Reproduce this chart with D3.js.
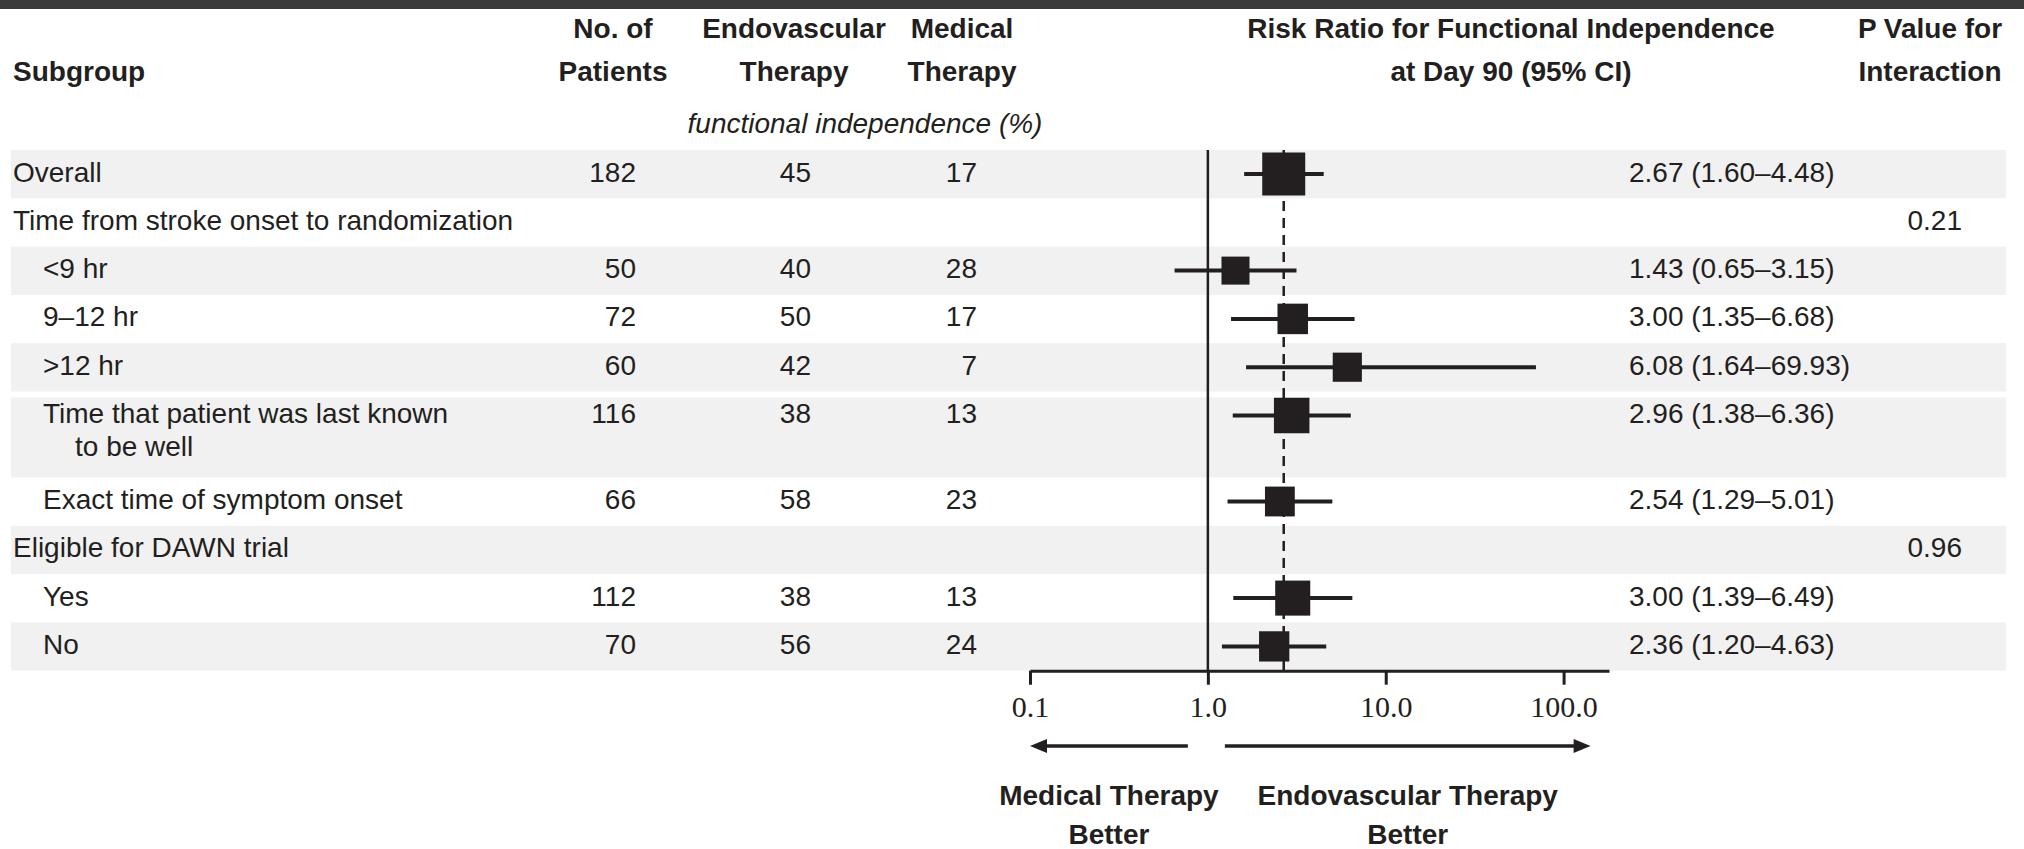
<!DOCTYPE html>
<html>
<head>
<meta charset="utf-8">
<script src="https://cdn.jsdelivr.net/npm/d3@7"></script>
<style>
  html, body { margin: 0; padding: 0; background: #ffffff; }
  svg { display: block; }
  text { font-family: "Liberation Sans", Arial, sans-serif; fill: #231f20; }
</style>
</head>
<body>
<svg id="chart" width="2024" height="849"></svg>
<script>
// ---- Subgroup table ----
const labelLines = [
  ["Overall"],
  ["Time from stroke onset to randomization"],
  ["<9 hr"],
  ["9–12 hr"],
  [">12 hr"],
  ["Time that patient was last known", "to be well"],
  ["Exact time of symptom onset"],
  ["Eligible for DAWN trial"],
  ["Yes"],
  ["No"]
];
const indentLevel   = [0, 0, 1, 1, 1, 1, 1, 0, 1, 1];
const patients      = [182, null, 50, 72, 60, 116, 66, null, 112, 70];
const endovascular  = [45, null, 40, 50, 42, 38, 58, null, 38, 56];
const medical       = [17, null, 28, 17, 7, 13, 23, null, 13, 24];
const riskRatio     = [2.67, null, 1.43, 3.00, 6.08, 2.96, 2.54, null, 3.00, 2.36];
const ciLow         = [1.60, null, 0.65, 1.35, 1.64, 1.38, 1.29, null, 1.39, 1.20];
const ciHigh        = [4.48, null, 3.15, 6.68, 69.93, 6.36, 5.01, null, 6.49, 4.63];
const pInteraction  = [null, "0.21", null, null, null, null, null, "0.96", null, null];
const shaded        = [true, false, true, false, true, true, false, true, false, true];

// ---- Axis ----
const tickValues = [0.1, 1, 10, 100];
const tickLabels = ["0.1", "1.0", "10.0", "100.0"];

const svg = d3.select("#chart");
const W = 2024, H = 849;
const ink = "#231f20";

// dark strip along the top edge
svg.append("rect").attr("x", 0).attr("y", 0).attr("width", W).attr("height", 9).attr("fill", "#3a3a3a");

// ---- row layout ----
const firstRowTop = 150, lineRow = 48.3, twoLineRow = 86;
const rowTop = [];
let acc = firstRowTop;
labelLines.forEach((lines, i) => {
  rowTop.push(acc);
  acc += lines.length > 1 ? twoLineRow : lineRow;
});
const rowBottom = rowTop.map((t, i) => i + 1 < rowTop.length ? rowTop[i + 1] : acc);
const axisY = acc;
const markY = rowTop.map(t => t + 24);

// row shading
const bandLeft = 11, bandRight = 2006;
svg.append("g").selectAll("rect")
  .data(d3.range(labelLines.length).filter(i => shaded[i]))
  .join("rect")
  .attr("x", bandLeft)
  .attr("y", i => rowTop[i] + (i > 0 && shaded[i - 1] ? 6 : 0))
  .attr("width", bandRight - bandLeft)
  .attr("height", i => rowBottom[i] - rowTop[i] - (i > 0 && shaded[i - 1] ? 6 : 0))
  .attr("fill", "#f1f1f1");

// ---- header ----
const FS = 28;
const header = svg.append("g").attr("font-size", FS).attr("font-weight", "bold");
const headLine1 = 28, headLine2 = 71;
header.append("text").attr("x", 13).attr("y", headLine2).attr("dominant-baseline", "central").text("Subgroup");
const headCols = [
  { x: 613, lines: ["No. of", "Patients"] },
  { x: 794, lines: ["Endovascular", "Therapy"] },
  { x: 962, lines: ["Medical", "Therapy"] },
  { x: 1511, lines: ["Risk Ratio for Functional Independence", "at Day 90 (95% CI)"] },
  { x: 1930, lines: ["P Value for", "Interaction"] }
];
headCols.forEach(c => {
  c.lines.forEach((s, k) => {
    header.append("text").attr("x", c.x).attr("y", k === 0 ? headLine1 : headLine2)
      .attr("text-anchor", "middle").attr("dominant-baseline", "central").text(s);
  });
});
svg.append("text").attr("x", 865).attr("y", 123).attr("font-size", FS).attr("font-style", "italic")
  .attr("text-anchor", "middle").attr("dominant-baseline", "central").text("functional independence (%)");

// ---- table text ----
const body = svg.append("g").attr("font-size", FS);
labelLines.forEach((lines, i) => {
  lines.forEach((s, k) => {
    body.append("text")
      .attr("x", (indentLevel[i] ? 43 : 13) + (k > 0 ? 32 : 0))
      .attr("y", markY[i] + k * 33 - 2)
      .attr("dominant-baseline", "central")
      .text(s);
  });
});
const numCols = [
  { values: patients, right: 636 },
  { values: endovascular, right: 811 },
  { values: medical, right: 977 }
];
numCols.forEach(col => {
  col.values.forEach((v, i) => {
    if (v == null) return;
    body.append("text").attr("x", col.right).attr("y", markY[i] - 2)
      .attr("text-anchor", "end").attr("dominant-baseline", "central").text(v);
  });
});
const fmt = d3.format(".2f");
riskRatio.forEach((rr, i) => {
  if (rr == null) return;
  body.append("text").attr("x", 1629).attr("y", markY[i] - 2)
    .attr("dominant-baseline", "central")
    .text(`${fmt(rr)} (${fmt(ciLow[i])}–${fmt(ciHigh[i])})`);
});
pInteraction.forEach((p, i) => {
  if (p == null) return;
  body.append("text").attr("x", 1962).attr("y", markY[i] - 2)
    .attr("text-anchor", "end").attr("dominant-baseline", "central").text(p);
});

// ---- forest plot ----
const x = d3.scaleLog().domain([0.1, 180]).range([1030, 1609]);
const boxSize = d3.scaleLinear().domain([50, 182]).range([28, 43]);

// reference lines: no effect and overall estimate
svg.append("line")
  .attr("x1", x(1)).attr("x2", x(1)).attr("y1", rowTop[0]).attr("y2", axisY)
  .attr("stroke", ink).attr("stroke-width", 2.5);
svg.append("line")
  .attr("x1", x(riskRatio[0])).attr("x2", x(riskRatio[0])).attr("y1", rowTop[0]).attr("y2", axisY)
  .attr("stroke", ink).attr("stroke-width", 2.5).attr("stroke-dasharray", "10,7");

const est = d3.range(labelLines.length).filter(i => riskRatio[i] != null);
const marks = svg.append("g");
marks.selectAll("line.ci").data(est).join("line")
  .attr("class", "ci")
  .attr("x1", i => x(ciLow[i])).attr("x2", i => x(ciHigh[i]))
  .attr("y1", i => markY[i]).attr("y2", i => markY[i])
  .attr("stroke", ink).attr("stroke-width", 4);
marks.selectAll("rect.pt").data(est).join("rect")
  .attr("class", "pt")
  .attr("x", i => x(riskRatio[i]) - boxSize(patients[i]) / 2)
  .attr("y", i => markY[i] - boxSize(patients[i]) / 2)
  .attr("width", i => boxSize(patients[i]))
  .attr("height", i => boxSize(patients[i]))
  .attr("fill", ink);

// axis
const axis = d3.axisBottom(x)
  .tickValues(tickValues)
  .tickFormat((d, i) => tickLabels[i])
  .tickSize(14)
  .tickSizeOuter(0)
  .tickPadding(11);
const gAxis = svg.append("g").attr("transform", `translate(0,${axisY})`).call(axis);
gAxis.select(".domain").attr("stroke", ink).attr("stroke-width", 3);
gAxis.selectAll(".tick line").attr("stroke", ink).attr("stroke-width", 3);
gAxis.selectAll(".tick text")
  .style("font-family", '"Liberation Serif", "Times New Roman", serif')
  .attr("font-size", 30).attr("fill", ink);

// direction arrows
const arrowY = 746;
const arrows = [
  { from: x(1) - 20, to: x(0.1) },
  { from: x(1) + 17, to: x(100) + 27 }
];
arrows.forEach(a => {
  const dir = Math.sign(a.to - a.from);
  svg.append("line")
    .attr("x1", a.from).attr("x2", a.to - dir * 10).attr("y1", arrowY).attr("y2", arrowY)
    .attr("stroke", ink).attr("stroke-width", 3.5);
  svg.append("path")
    .attr("d", `M${a.to},${arrowY} L${a.to - dir * 17},${arrowY - 7} L${a.to - dir * 17},${arrowY + 7} Z`)
    .attr("fill", ink);
});
const dirLabels = [
  { cx: (arrows[0].from + arrows[0].to) / 2, lines: ["Medical Therapy", "Better"] },
  { cx: (arrows[1].from + arrows[1].to) / 2, lines: ["Endovascular Therapy", "Better"] }
];
dirLabels.forEach(d => {
  d.lines.forEach((s, k) => {
    svg.append("text").attr("x", d.cx).attr("y", 795 + k * 39)
      .attr("font-size", FS).attr("font-weight", "bold")
      .attr("text-anchor", "middle").attr("dominant-baseline", "central").text(s);
  });
});
</script>
</body>
</html>
